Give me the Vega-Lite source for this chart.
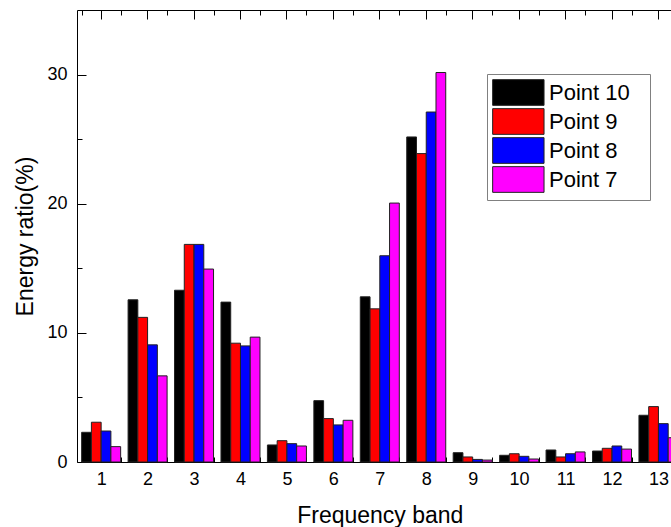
{
  "$schema": "https://vega.github.io/schema/vega-lite/v6.json",
  "width": 594,
  "height": 452,
  "autosize": {"type": "none"},
  "padding": {"left": 77, "top": 10, "right": 0, "bottom": 65},
  "background": "white",
  "config": {
    "view": {"stroke": null},
    "font": "Liberation Sans",
    "axis": {
      "domainColor": "#000", "domainWidth": 1, "tickColor": "#000", "tickWidth": 1,
      "labelColor": "#000", "titleColor": "#000", "grid": false,
      "labelFont": "Liberation Sans", "titleFont": "Liberation Sans",
      "labelFontSize": 18, "titleFontSize": 23, "titleFontWeight": "normal"
    },
    "legend": {"labelFont": "Liberation Sans"}
  },
  "data": {"values": [
    {"band": 1, "series": "Point 10", "value": 2.3}, {"band": 1, "series": "Point 9", "value": 3.08}, {"band": 1, "series": "Point 8", "value": 2.4}, {"band": 1, "series": "Point 7", "value": 1.19},
    {"band": 2, "series": "Point 10", "value": 12.56}, {"band": 2, "series": "Point 9", "value": 11.2}, {"band": 2, "series": "Point 8", "value": 9.07}, {"band": 2, "series": "Point 7", "value": 6.67},
    {"band": 3, "series": "Point 10", "value": 13.3}, {"band": 3, "series": "Point 9", "value": 16.85}, {"band": 3, "series": "Point 8", "value": 16.85}, {"band": 3, "series": "Point 7", "value": 14.94},
    {"band": 4, "series": "Point 10", "value": 12.38}, {"band": 4, "series": "Point 9", "value": 9.2}, {"band": 4, "series": "Point 8", "value": 8.99}, {"band": 4, "series": "Point 7", "value": 9.67},
    {"band": 5, "series": "Point 10", "value": 1.32}, {"band": 5, "series": "Point 9", "value": 1.65}, {"band": 5, "series": "Point 8", "value": 1.42}, {"band": 5, "series": "Point 7", "value": 1.24},
    {"band": 6, "series": "Point 10", "value": 4.75}, {"band": 6, "series": "Point 9", "value": 3.36}, {"band": 6, "series": "Point 8", "value": 2.87}, {"band": 6, "series": "Point 7", "value": 3.23},
    {"band": 7, "series": "Point 10", "value": 12.79}, {"band": 7, "series": "Point 9", "value": 11.86}, {"band": 7, "series": "Point 8", "value": 15.97}, {"band": 7, "series": "Point 7", "value": 20.05},
    {"band": 8, "series": "Point 10", "value": 25.17}, {"band": 8, "series": "Point 9", "value": 23.88}, {"band": 8, "series": "Point 8", "value": 27.1}, {"band": 8, "series": "Point 7", "value": 30.16},
    {"band": 9, "series": "Point 10", "value": 0.72}, {"band": 9, "series": "Point 9", "value": 0.39}, {"band": 9, "series": "Point 8", "value": 0.2}, {"band": 9, "series": "Point 7", "value": 0.15},
    {"band": 10, "series": "Point 10", "value": 0.52}, {"band": 10, "series": "Point 9", "value": 0.64}, {"band": 10, "series": "Point 8", "value": 0.44}, {"band": 10, "series": "Point 7", "value": 0.23},
    {"band": 11, "series": "Point 10", "value": 0.93}, {"band": 11, "series": "Point 9", "value": 0.39}, {"band": 11, "series": "Point 8", "value": 0.64}, {"band": 11, "series": "Point 7", "value": 0.78},
    {"band": 12, "series": "Point 10", "value": 0.85}, {"band": 12, "series": "Point 9", "value": 1.06}, {"band": 12, "series": "Point 8", "value": 1.24}, {"band": 12, "series": "Point 7", "value": 1.0},
    {"band": 13, "series": "Point 10", "value": 3.62}, {"band": 13, "series": "Point 9", "value": 4.29}, {"band": 13, "series": "Point 8", "value": 2.97}, {"band": 13, "series": "Point 7", "value": 1.88}
  ]},
  "resolve": {"axis": {"x": "independent"}},
  "layer": [
    {
      "mark": {"type": "bar", "stroke": "#222", "strokeWidth": 1},
      "encoding": {
        "x": {
          "field": "band", "type": "ordinal",
          "scale": {"domain": [1,2,3,4,5,6,7,8,9,10,11,12,13], "range": [0, 605.6], "paddingInner": 0.16, "paddingOuter": 0.1},
          "axis": {"orient": "bottom", "title": "Frequency band", "tickBand": "extent", "tickSize": -5, "labelAngle": 0, "labelPadding": 13, "titlePadding": 16}
        },
        "xOffset": {
          "field": "series", "type": "nominal",
          "scale": {"domain": ["Point 10", "Point 9", "Point 8", "Point 7"], "paddingInner": 0, "paddingOuter": 0}
        },
        "y": {
          "field": "value", "type": "quantitative",
          "scale": {"domain": [0, 35], "nice": false},
          "axis": {
            "orient": "left", "values": [0, 5, 10, 15, 20, 25, 30],
            "tickSize": {"condition": {"test": "datum.value % 10 === 0", "value": -9}, "value": -5},
            "labelExpr": "datum.value % 10 === 0 ? datum.label : ''",
            "labelPadding": 19, "title": "Energy ratio(%)", "titlePadding": 9
          }
        },
        "color": {
          "field": "series", "type": "nominal",
          "scale": {"domain": ["Point 10", "Point 9", "Point 8", "Point 7"], "range": ["#000000", "#ff0000", "#0000ff", "#ff00ff"]},
          "legend": {
            "orient": "none", "legendX": 410, "legendY": 64,
            "title": "ii", "titleOrient": "right", "titleColor": "#ffffff", "titleFontSize": 22, "titlePadding": 2, "titleFont": "Liberation Sans",
            "strokeColor": "#808080", "fillColor": "white", "padding": 5,
            "symbolType": "M-1,-1H3V1H-1Z", "symbolSize": 660,
            "symbolStrokeColor": "#222", "symbolStrokeWidth": 1, "symbolOpacity": 1,
            "labelFontSize": 22, "labelColor": "#000", "labelOffset": 30, "rowPadding": -3
          }
        }
      }
    },
    {
      "mark": {"type": "bar", "opacity": 0},
      "encoding": {
        "x": {
          "field": "band", "type": "ordinal",
          "scale": {"domain": [1,2,3,4,5,6,7,8,9,10,11,12,13], "range": [0, 605.6], "paddingInner": 0.16, "paddingOuter": 0.1},
          "axis": {"orient": "top", "labels": false, "title": null, "tickSize": -9}
        },
        "y": {"field": "value", "type": "quantitative", "stack": null}
      }
    },
    {
      "mark": {"type": "bar", "opacity": 0},
      "encoding": {
        "x": {
          "field": "band", "type": "ordinal",
          "scale": {"domain": [1,2,3,4,5,6,7,8,9,10,11,12,13], "range": [0, 605.6], "paddingInner": 0.16, "paddingOuter": 0.1},
          "axis": {"orient": "top", "labels": false, "title": null, "tickSize": -5, "tickBand": "extent", "domain": false}
        },
        "y": {"field": "value", "type": "quantitative", "stack": null}
      }
    }
  ]
}
